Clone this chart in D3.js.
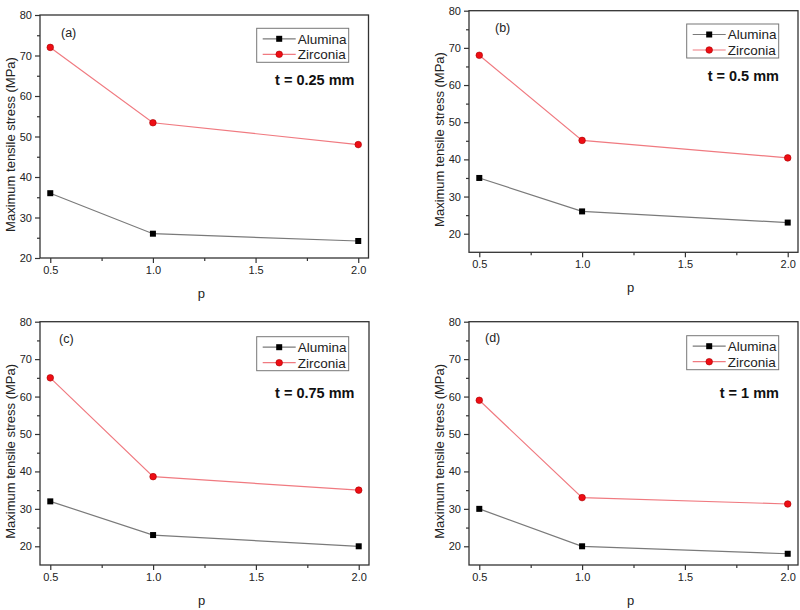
<!DOCTYPE html>
<html><head><meta charset="utf-8">
<script src="https://cdn.jsdelivr.net/npm/d3@7"></script>
<style>body{margin:0;background:#fff}svg{display:block}text{font-family:"Liberation Sans",Arial,sans-serif}</style>
</head><body>
<svg id="c" width="800" height="610"></svg>
<script>
// ---- data ----
const pValues = [0.5, 1.0, 2.0];
const panelLabels = ["(a)", "(b)", "(c)", "(d)"];
const thicknessLabels = ["t = 0.25 mm", "t = 0.5 mm", "t = 0.75 mm", "t = 1 mm"];
const seriesNames = ["Alumina", "Zirconia"];
const aluminaA = [36, 26, 24.2];
const zirconiaA = [72, 53.4, 48];
const aluminaB = [35, 26, 23];
const zirconiaB = [68, 45.1, 40.4];
const aluminaC = [32, 23, 20];
const zirconiaC = [65, 38.6, 35];
const aluminaD = [30, 20, 18];
const zirconiaD = [59, 33, 31.3];
const yDomains = [[20, 80], [15, 80], [15, 80], [15, 80]];
const xTicks = [0.5, 1.0, 1.5, 2.0];
const yTicks = [20, 30, 40, 50, 60, 70, 80];

// ---- layout ----
const panels = [
  {L:40, R:368.5, T:15, B:258, lab:[61, 32], leg:[256.7, 28.3], t:[354.5, 80]},
  {L:469, R:798, T:10.7, B:252.3, lab:[495, 27], leg:[686.7, 24], t:[779, 76]},
  {L:40, R:369, T:321.7, B:565, lab:[59, 338], leg:[256.7, 336.7], t:[354.5, 393.3]},
  {L:469, R:798, T:321.7, B:565, lab:[485, 337], leg:[686.7, 335.7], t:[779, 392.7]}
];
const data = [[aluminaA, zirconiaA], [aluminaB, zirconiaB], [aluminaC, zirconiaC], [aluminaD, zirconiaD]];
const lineColors = ["#7a7a7a", "#f07a80"];
const axisColor = "#333";

const svg = d3.select("#c");

panels.forEach((P, i) => {
  const g = svg.append("g");
  const x = d3.scaleLinear().domain([0.45, 2.05]).range([P.L, P.R]);
  const y = d3.scaleLinear().domain(yDomains[i]).range([P.B, P.T]);

  g.append("rect").attr("x", P.L).attr("y", P.T).attr("width", P.R - P.L).attr("height", P.B - P.T)
    .attr("fill", "none").attr("stroke", axisColor).attr("stroke-width", 1.3);

  const xa = g.append("g").attr("transform", `translate(0,${P.B})`)
    .call(d3.axisBottom(x).tickValues(xTicks).tickFormat(d3.format(".1f")).tickSizeInner(5).tickSizeOuter(0).tickPadding(3));
  xa.select(".domain").remove();
  xa.selectAll("line").attr("stroke", axisColor).attr("stroke-width", 1.2);
  xa.selectAll("text").attr("font-size", 11).attr("fill", "#222");
  const xm = g.append("g").attr("transform", `translate(0,${P.B})`)
    .call(d3.axisBottom(x).tickValues([0.75, 1.25, 1.75]).tickSize(3).tickFormat(""));
  xm.select(".domain").remove();
  xm.selectAll("line").attr("stroke", axisColor).attr("stroke-width", 1.2);

  const yt = yTicks.filter(v => v >= yDomains[i][0]);
  const ya = g.append("g").attr("transform", `translate(${P.L},0)`)
    .call(d3.axisLeft(y).tickValues(yt).tickSizeInner(5).tickSizeOuter(0).tickPadding(3));
  ya.select(".domain").remove();
  ya.selectAll("line").attr("stroke", axisColor).attr("stroke-width", 1.2);
  ya.selectAll("text").attr("font-size", 11).attr("fill", "#222");
  const ym = g.append("g").attr("transform", `translate(${P.L},0)`)
    .call(d3.axisLeft(y).tickValues(d3.range(25, 80, 10).filter(v => v > yDomains[i][0])).tickSize(3).tickFormat(""));
  ym.select(".domain").remove();
  ym.selectAll("line").attr("stroke", axisColor).attr("stroke-width", 1.2);

  g.append("text").attr("x", (P.L + P.R) / 2 - 3).attr("y", P.B + 40).attr("text-anchor", "middle")
    .attr("font-size", 13).attr("fill", "#222").text("p");
  g.append("text").attr("transform", `translate(${P.L - 25},${(P.T + P.B) / 2 + 8}) rotate(-90)`)
    .attr("text-anchor", "middle").attr("font-size", 13).attr("fill", "#222").text("Maximum tensile stress (MPa)");

  const line = d3.line().x((d, j) => x(pValues[j])).y(d => y(d));
  data[i].forEach((vals, s) => {
    g.append("path").datum(vals).attr("d", line).attr("fill", "none")
      .attr("stroke", lineColors[s]).attr("stroke-width", 1.2);
  });
  g.selectAll(".sq").data(data[i][0]).enter().append("rect")
    .attr("x", (d, j) => x(pValues[j]) - 3).attr("y", d => y(d) - 3)
    .attr("width", 6).attr("height", 6).attr("fill", "#000");
  g.selectAll(".ci").data(data[i][1]).enter().append("circle")
    .attr("cx", (d, j) => x(pValues[j])).attr("cy", d => y(d)).attr("r", 3.3)
    .attr("fill", "#ee0d14").attr("stroke", "#a00").attr("stroke-width", 0.6);

  g.append("text").attr("x", P.lab[0]).attr("y", P.lab[1] + 4.5).attr("font-size", 12.5).attr("fill", "#222").text(panelLabels[i]);

  const lx = P.leg[0], ly = P.leg[1];
  g.append("rect").attr("x", lx).attr("y", ly).attr("width", 92).attr("height", 34)
    .attr("fill", "#fff").attr("stroke", "#777").attr("stroke-width", 1);
  seriesNames.forEach((nm, s) => {
    const cy = ly + 10.5 + s * 15.5;
    g.append("line").attr("x1", lx + 6).attr("x2", lx + 39).attr("y1", cy).attr("y2", cy)
      .attr("stroke", lineColors[s]).attr("stroke-width", 1.2);
    if (s === 0) g.append("rect").attr("x", lx + 22.5 - 3).attr("y", cy - 3).attr("width", 6).attr("height", 6).attr("fill", "#000");
    else g.append("circle").attr("cx", lx + 22.5).attr("cy", cy).attr("r", 3.3).attr("fill", "#ee0d14").attr("stroke", "#a00").attr("stroke-width", 0.6);
    g.append("text").attr("x", lx + 41).attr("y", cy + 4.8).attr("font-size", 13.5).attr("fill", "#222").text(nm);
  });

  g.append("text").attr("x", P.t[0]).attr("y", P.t[1] + 5).attr("text-anchor", "end")
    .attr("font-size", 14.5).attr("font-weight", "bold").attr("fill", "#111").text(thicknessLabels[i]);
});
</script>
</body></html>
